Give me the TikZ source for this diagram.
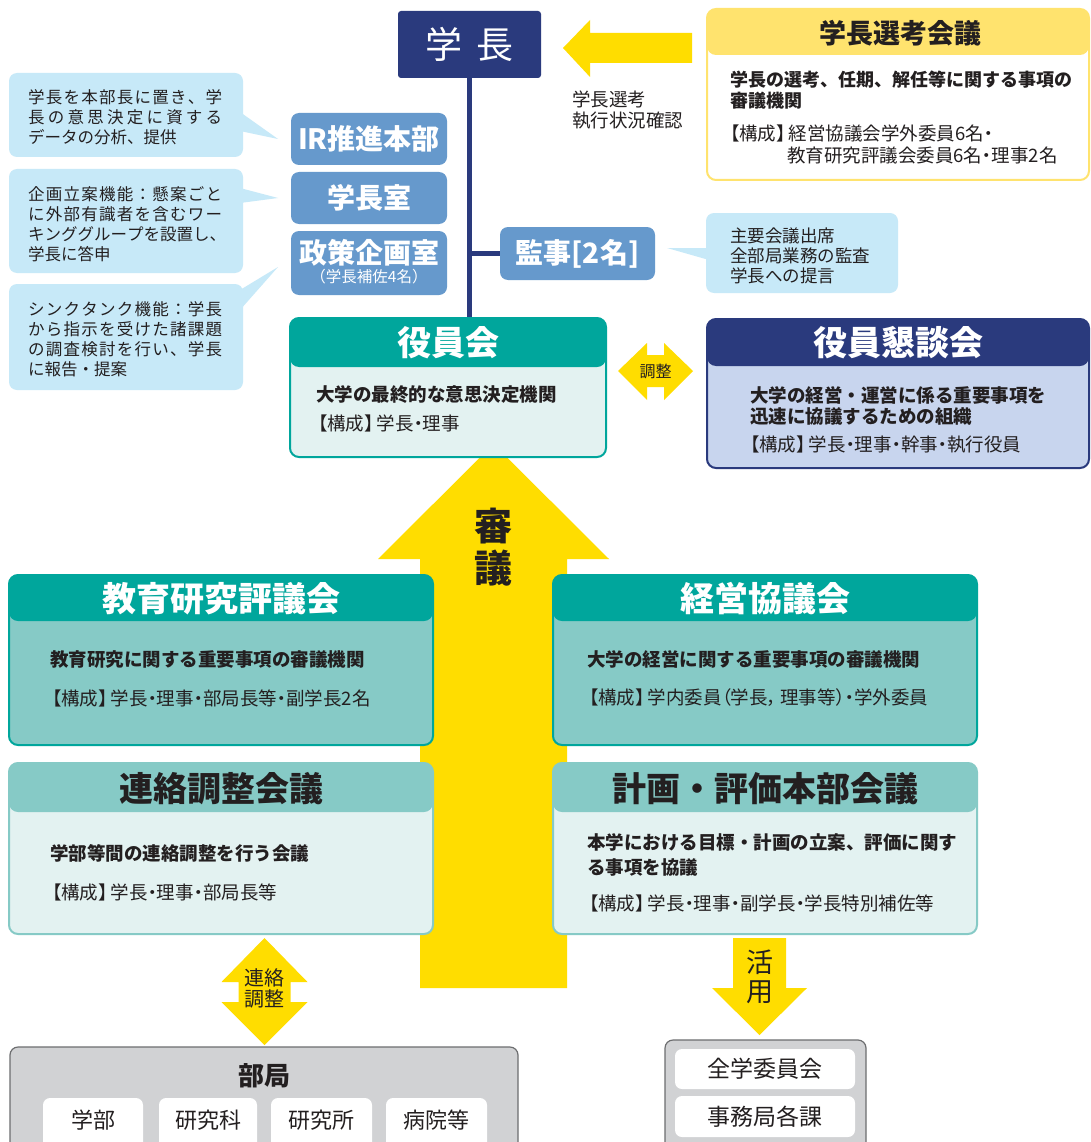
\documentclass[tikz,border=0pt]{standalone}
\usepackage{fontspec}
\setmainfont{Noto Sans CJK JP}
\newfontfamily\jpp{Noto Sans CJK JP}[RawFeature=+palt]
\usetikzlibrary{calc}
\definecolor{cNavy}{HTML}{2A3A7D}
\definecolor{cTeal}{HTML}{00A69C}
\definecolor{cMid}{HTML}{86CAC6}
\definecolor{cLight}{HTML}{E3F2F1}
\definecolor{cBlue}{HTML}{6699CC}
\definecolor{cCall}{HTML}{C7E9F8}
\definecolor{cYel}{HTML}{FFDD00}
\definecolor{cYelL}{HTML}{FFE36E}
\definecolor{cLav}{HTML}{C8D5EE}
\definecolor{cGray}{HTML}{D1D2D4}
\definecolor{cGrayD}{HTML}{6D6E70}
\definecolor{cText}{HTML}{231F20}
\def\jsA#1{#1\jsB}
\def\jsB#1{\ifx\relax#1\else\hfil#1\expandafter\jsB\fi}
\newcommand\jl[1]{\hbox to 194pt{\jsA#1\relax}}
\newcommand\descf{\fontsize{18.5}{21}\selectfont\bfseries}
\newcommand\kousf{\jpp\fontsize{18.5}{22}\selectfont}
\newcommand\titlef{\fontsize{34}{36}\selectfont\bfseries}
\newcommand\orgbox[9]{%
  \pgfmathsetmacro\bxc{(#2+#4)/2}\pgfmathsetmacro\byc{(#3+#5)/2}%
  \pgfmathsetmacro\bw{#4-#2}\pgfmathsetmacro\bh{#5-#3}\pgfmathsetmacro\hh{#6-#3}%
  \node[name=#1, draw=#9, fill=#7, rounded corners=9pt, line width=2pt,
    minimum width=\bw pt, minimum height=\bh pt,
    path picture={\fill[#8] (path picture bounding box.north west) rectangle ([yshift=-\hh pt]path picture bounding box.north east);}]
    at (\bxc,\byc) {};}
\begin{document}
\begin{tikzpicture}[x=1pt,y=-1pt,
  every node/.style={inner sep=0pt, text=cText},
  lt/.style={anchor=west, align=left},
  blu/.style={fill=cBlue, rounded corners=8pt, text=white, font=\fontsize{28}{30}\selectfont\bfseries},
  call/.style={fill=cCall, rounded corners=8pt},
  wbox/.style={fill=white, rounded corners=7pt},
  graybox/.style={fill=cGray, draw=cGrayD, line width=1.2pt, rounded corners=8pt},
  callf/.style={font=\fontsize{16.5}{20}\selectfont, text=cText}
]
\useasboundingbox (0,0) rectangle (1091,1142);
\clip (0,0) rectangle (1091,1142);
\fill[white] (0,0) rectangle (1091,1142);

% big up arrow (review)
\fill[cYel] (378,559) -- (493.5,444) -- (609,559) -- (567,559) -- (567,988) -- (420,988) -- (420,559) -- cycle;

% president
\node[fill=cNavy, rounded corners=3pt, minimum width=143pt, minimum height=67pt, text=white,
  font=\fontsize{37}{40}\selectfont] (gakucho) at (469.5,44.5) {学\hspace{15pt}長};

% selection arrow
\fill[cYel] (563,48) -- (590,20) -- (590,33) -- (692,33) -- (692,63) -- (590,63) -- (590,77) -- cycle;
\node[lt, font=\fontsize{18.5}{20.5}\selectfont] (senkoulbl) at (572,110) {学長選考\\執行状況確認};

% selection committee
\orgbox{senkou}{707}{9}{1089}{180}{55}{white}{cYelL}{cYelL}
\node[font=\fontsize{27}{30}\selectfont\bfseries] (senkout) at (900,33) {学長選考会議};
\node[lt, font=\fontsize{18}{21}\selectfont\bfseries] (senkoud) at (730,90.5) {学長の選考、任期、解任等に関する事項の\\審議機関};
\node[lt, font=\kousf] (senkouk) at (730,144) {【構成】\hspace{3pt}経営協議会学外委員6名・\\\hspace*{57pt}教育研究評議会委員6名・理事2名};

% blue boxes
\node[blu, minimum width=156pt, minimum height=52pt] (ir) at (369,139) {IR推進本部};
\node[blu, minimum width=156pt, minimum height=52pt] (shitsu) at (369,198) {学長室};
\node[blu, minimum width=156pt, minimum height=64pt] (seisaku) at (369,263) {};
\node[font=\fontsize{28}{30}\selectfont\bfseries, text=white] (seisakut) at (369,253) {政策企画室};
\node[font=\fontsize{15.5}{17}\selectfont, text=white] (seisakus) at (369,277) {（学長補佐4名）};
\node[blu, minimum width=155pt, minimum height=53pt] (kanji) at (577.5,253.5) {監事[2名]};

% left callouts
\node[call, minimum width=234pt, minimum height=84pt] (c1) at (126,115) {};
\fill[cCall] (240,112) -- (278,139) -- (240,131) -- cycle;
\node[lt, callf] (c1t) at (28,117) {\jl{学長を本部長に置き、学}\\\jl{長の意思決定に資する}\\データの分析、提供};
\node[call, minimum width=234pt, minimum height=104pt] (c2) at (126,221) {};
\fill[cCall] (240,188) -- (278,198) -- (240,203) -- cycle;
\node[lt, callf] (c2t) at (28,224) {\jl{企画立案機能：懸案ごと}\\\jl{に外部有識者を含むワー}\\\jl{キンググループを設置し、}\\学長に答申};
\node[call, minimum width=234pt, minimum height=106pt] (c3) at (126,337) {};
\fill[cCall] (240,290) -- (278,267) -- (240,310) -- cycle;
\node[lt, callf] (c3t) at (28,339.5) {\jl{シンクタンク機能：学長}\\\jl{から指示を受けた諸課題}\\\jl{の調査検討を行い、学長}\\に報告・提案};

% right callout
\node[call, minimum width=192pt, minimum height=80pt] (c4) at (802,253) {};
\fill[cCall] (709,248) -- (667,248) -- (709,260) -- cycle;
\node[lt, font=\fontsize{17.5}{20}\selectfont] (c4t) at (730,256) {主要会議出席\\全部局業務の監査\\学長への提言};

% board of directors
\orgbox{yakuin}{290}{318}{606}{457}{367}{cLight}{cTeal}{cTeal}
\node[font=\titlef, text=white] (yakuint) at (448,343) {役員会};
\node[lt, font=\descf] (yakuind) at (316,395) {大学の最終的な意思決定機関};
\node[lt, font=\kousf] (yakuink) at (318,423) {【構成】\hspace{3pt}学長・理事};

% executive meeting
\orgbox{kondan}{707}{319}{1089}{468}{366}{cLav}{cNavy}{cNavy}
\node[font=\titlef, text=white] (kondant) at (898,343) {役員懇談会};
\node[lt, font=\descf] (kondand) at (750,405.5) {大学の経営・運営に係る重要事項を\\迅速に協議するための組織};
\node[lt, font=\kousf] (kondank) at (750,445) {【構成】\hspace{3pt}学長・理事・幹事・執行役員};

% coordination arrow
\fill[cYel] (618,371) -- (647,343) -- (647,355) -- (664,355) -- (664,343) -- (693,371) -- (664,400) -- (664,387) -- (647,387) -- (647,400) -- cycle;
\node[font=\fontsize{16}{18}\selectfont] (choseit) at (655.5,371) {調整};

% lines
\draw[cNavy, line width=5pt] (gakucho.south) -- (gakucho.south |- yakuin.north);
\draw[cNavy, line width=5pt] (gakucho.south |- kanji.west) -- (kanji.west);

% review text
\node[font=\fontsize{38}{42}\selectfont\bfseries, align=center] (shingi) at (493.5,547) {審\\議};

% councils
\orgbox{kyoiku}{9}{575}{433}{745}{621}{cMid}{cTeal}{cTeal}
\node[font=\titlef, text=white] (kyoikut) at (221,599) {教育研究評議会};
\node[lt, font=\descf] (kyoikud) at (50,660) {教育研究に関する重要事項の審議機関};
\node[lt, font=\kousf] (kyoikuk) at (52,698) {【構成】\hspace{3pt}学長・理事・部局長等・副学長2名};

\orgbox{renraku}{9}{763}{433}{934}{812}{cLight}{cMid}{cMid}
\node[font=\titlef] (renrakut) at (221,789) {連絡調整会議};
\node[lt, font=\descf] (renrakud) at (50,853) {学部等間の連絡調整を行う会議};
\node[lt, font=\kousf] (renrakuk) at (52,892) {【構成】\hspace{3pt}学長・理事・部局長等};

\orgbox{keiei}{553}{575}{977}{745}{621}{cMid}{cTeal}{cTeal}
\node[font=\titlef, text=white] (keieit) at (765,599) {経営協議会};
\node[lt, font=\descf] (keieid) at (587,659) {大学の経営に関する重要事項の審議機関};
\node[lt, font=\kousf] (keieik) at (589,698) {【構成】\hspace{3pt}学内委員（学長，\hspace{3pt}理事等）・学外委員};

\orgbox{keikaku}{553}{763}{977}{934}{812}{cLight}{cMid}{cMid}
\node[font=\titlef] (keikakut) at (765,789) {計画・評価本部会議};
\node[lt, font=\fontsize{18.5}{25}\selectfont\bfseries] (keikakud) at (587,854.5) {本学における目標・計画の立案、評価に関す\\る事項を協議};
\node[lt, font=\kousf] (keikakuk) at (589,903) {【構成】\hspace{3pt}学長・理事・副学長・学長特別補佐等};

% liaison double arrow
\fill[cYel] (264.5,938) -- (307.5,982) -- (290.5,982) -- (290.5,1002) -- (307.5,1002) -- (264.5,1045) -- (221.5,1002) -- (238.5,1002) -- (238.5,982) -- (221.5,982) -- cycle;
\node[font=\fontsize{20}{21}\selectfont, align=center] (renrakua) at (264.5,988) {連絡\\調整};

% utilization arrow
\fill[cYel] (733,938) -- (786,938) -- (786,988) -- (807,988) -- (759.5,1035) -- (712,988) -- (733,988) -- cycle;
\node[font=\fontsize{27}{29}\selectfont, align=center] (katsuyo) at (759.5,977) {活\\用};

% departments
\node[graybox, minimum width=508pt, minimum height=140pt] (bukyoku) at (264,1117) {};
\node[font=\fontsize{26}{28}\selectfont\bfseries] (bukyokut) at (264,1076) {部局};
\node[wbox, minimum width=100pt, minimum height=60pt] (gakubu) at (93,1128) {};
\node[font=\fontsize{22}{24}\selectfont] (gakubut) at (93,1120) {学部};
\node[wbox, minimum width=98pt, minimum height=60pt] (kenkyuka) at (208,1128) {};
\node[font=\fontsize{22}{24}\selectfont] (kenkyukat) at (208,1120) {研究科};
\node[wbox, minimum width=101pt, minimum height=60pt] (kenkyusho) at (321.5,1128) {};
\node[font=\fontsize{22}{24}\selectfont] (kenkyushot) at (321.5,1120) {研究所};
\node[wbox, minimum width=101pt, minimum height=60pt] (byoin) at (436.5,1128) {};
\node[font=\fontsize{22}{24}\selectfont] (byoint) at (436.5,1120) {病院等};

% administration
\node[graybox, minimum width=201pt, minimum height=140pt] (jimu) at (765.5,1110) {};
\node[wbox, minimum width=180pt, minimum height=40pt, font=\fontsize{23}{25}\selectfont] (zengaku) at (765,1069) {全学委員会};
\node[wbox, minimum width=180pt, minimum height=41pt, font=\fontsize{23}{25}\selectfont] (jimukyoku) at (765,1116.5) {事務局各課};
\end{tikzpicture}
\end{document}
